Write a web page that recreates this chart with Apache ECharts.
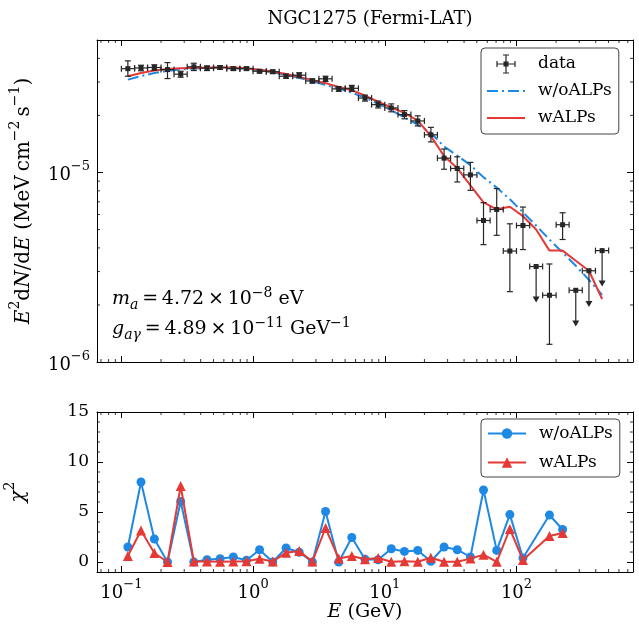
<!DOCTYPE html>
<html><head><meta charset="utf-8">
<script src="https://cdn.jsdelivr.net/npm/echarts@6/dist/echarts.min.js"></script>
<style>html,body{margin:0;padding:0;background:#fff}#c{width:639px;height:625px}</style>
</head><body><div id="c"></div>
<script>
// ---------------- data ----------------
const energy = [0.112,0.141,0.178,0.224,0.282,0.355,0.447,0.562,0.708,0.891,1.12,1.41,1.78,2.24,2.82,3.55,4.47,5.62,7.08,8.91,11.2,14.1,17.8,22.4,28.2,35.5,44.7,56.2,70.8,89.1,112,141,178,224,282,355,447];
const binEdges = [0.1,0.126,0.158,0.2,0.251,0.316,0.398,0.501,0.631,0.794,1,1.26,1.58,2,2.51,3.16,3.98,5.01,6.31,7.94,10,12.6,15.8,20,25.1,31.6,39.8,50.1,63.1,79.4,100,126,158,200,251,316,398,501];
const flux = [3.53e-5,3.56e-5,3.58e-5,3.49e-5,3.30e-5,3.61e-5,3.55e-5,3.58e-5,3.53e-5,3.53e-5,3.42e-5,3.40e-5,3.22e-5,3.26e-5,3.04e-5,3.12e-5,2.76e-5,2.78e-5,2.47e-5,2.28e-5,2.19e-5,2.02e-5,1.87e-5,1.58e-5,1.19e-5,1.05e-5,9.71e-6,5.58e-6,6.38e-6,3.85e-6,5.25e-6,3.19e-6,2.25e-6,5.30e-6,2.39e-6,3.03e-6,3.87e-6];
const fluxLo = [3.22e-5,3.44e-5,3.46e-5,3.13e-5,3.18e-5,3.45e-5,3.45e-5,3.50e-5,3.46e-5,3.46e-5,3.35e-5,3.33e-5,3.14e-5,3.16e-5,2.96e-5,3.02e-5,2.68e-5,2.68e-5,2.38e-5,2.19e-5,2.09e-5,1.92e-5,1.76e-5,1.45e-5,1.04e-5,8.91e-6,8.05e-6,4.16e-6,4.66e-6,2.35e-6,3.92e-6,2.06e-6,1.24e-6,4.43e-6,1.54e-6,1.95e-6,2.50e-6];
const fluxHi = [3.88e-5,3.68e-5,3.70e-5,3.80e-5,3.42e-5,3.77e-5,3.65e-5,3.66e-5,3.60e-5,3.60e-5,3.49e-5,3.47e-5,3.30e-5,3.36e-5,3.12e-5,3.22e-5,2.84e-5,2.88e-5,2.56e-5,2.38e-5,2.30e-5,2.12e-5,1.99e-5,1.73e-5,1.33e-5,1.21e-5,1.13e-5,6.93e-6,8.22e-6,5.36e-6,6.57e-6,3.19e-6,3.29e-6,6.13e-6,2.39e-6,3.03e-6,3.87e-6];
const upperLimit = [0,0,0,0,0,0,0,0,0,0,0,0,0,0,0,0,0,0,0,0,0,0,0,0,0,0,0,0,0,0,0,1,0,0,1,1,1];
const modelNoALP = [3.09e-5,3.226e-5,3.345e-5,3.436e-5,3.50e-5,3.535e-5,3.556e-5,3.565e-5,3.556e-5,3.526e-5,3.462e-5,3.378e-5,3.272e-5,3.155e-5,3.026e-5,2.895e-5,2.769e-5,2.636e-5,2.48e-5,2.304e-5,2.128e-5,1.954e-5,1.783e-5,1.617e-5,1.371e-5,1.228e-5,1.093e-5,9.44e-6,8.32e-6,7.22e-6,6.16e-6,5.25e-6,4.43e-6,3.78e-6,3.22e-6,2.71e-6,2.26e-6];
const modelALP = [3.22e-5,3.345e-5,3.449e-5,3.513e-5,3.548e-5,3.569e-5,3.578e-5,3.578e-5,3.578e-5,3.548e-5,3.483e-5,3.407e-5,3.304e-5,3.194e-5,3.071e-5,2.96e-5,2.826e-5,2.718e-5,2.541e-5,2.361e-5,2.202e-5,2.064e-5,1.879e-5,1.558e-5,1.22e-5,1.054e-5,8.56e-6,6.96e-6,6.39e-6,6.59e-6,5.88e-6,5.0e-6,3.87e-6,3.87e-6,3.42e-6,3.03e-6,2.15e-6];
const chiEnergy = [0.112,0.141,0.178,0.224,0.282,0.355,0.447,0.562,0.708,0.891,1.12,1.41,1.78,2.24,2.82,3.55,4.47,5.62,7.08,8.91,11.2,14.1,17.8,22.4,28.2,35.5,44.7,56.2,70.8,89.1,112,178,224];
const chiNoALP = [1.5,8.0,2.3,0,6.05,0,0.23,0.33,0.5,0.17,1.23,0,1.4,0.97,0,5.05,0,2.45,0.27,0.23,1.33,1.06,1.16,0.07,1.5,1.23,0.5,7.2,1.16,4.74,0.4,4.7,3.25];
const chiALP = [0.6,3.15,0.9,0,7.6,0.05,0.05,0.02,0.05,0.08,0.33,0.05,0.93,1.1,0.05,3.4,0.34,0.6,0.27,0.4,0.02,0.07,0.02,0.43,0.02,0.02,0.34,0.73,0.02,3.3,0.2,2.6,2.9];
const xMinorTicks = [0.07,0.08,0.09,0.2,0.3,0.4,0.5,0.6,0.7,0.8,0.9,2,3,4,5,6,7,8,9,20,30,40,50,60,70,80,90,200,300,400,500,600,700];
const yMinorTicksTop = [2e-6,3e-6,4e-6,5e-6,6e-6,7e-6,8e-6,9e-6,2e-5,3e-5,4e-5];
const yMinorTicksChi = [1,2,3,4,6,7,8,9,11,12,13,14];
const X_MIN = 0.0653, X_MAX = 767, Y_MIN = 1e-6, Y_MAX = 5e-5, CHI_MIN = -1, CHI_MAX = 15;

// ---------------- styles ----------------
const FONT = 'DejaVu Serif';
const BLUE = '#1E88E5', RED = '#E53935', INK = '#262626';
const powRich = {
  b: {fontFamily: FONT, fontSize: 18, color: '#000', lineHeight: 24, verticalAlign: 'bottom'},
  s: {fontFamily: FONT, fontSize: 13, color: '#000', lineHeight: 13, verticalAlign: 'top'}
};
function powLabel(v) {
  const e = Math.round(Math.log10(v));
  return '{b|10}{s|' + (e < 0 ? '\u2212' + (-e) : e) + '}';
}
function majorTick() { return {show: true, inside: true, length: 6, lineStyle: {color: '#000', width: 1}}; }
function axLine() { return {show: true, onZero: false, lineStyle: {color: '#000', width: 1}}; }

function logX(grid, pos, withLabels) {
  return {type: 'log', gridIndex: grid, position: pos, min: X_MIN, max: X_MAX,
    axisLine: axLine(), axisTick: majorTick(), splitLine: {show: false},
    axisLabel: {show: withLabels, showMinLabel: false, showMaxLabel: false, margin: 6,
      formatter: powLabel, rich: powRich}};
}

function renderErr(params, api) {
  const x = api.value(0), y = api.value(1), xl = api.value(2), xh = api.value(3),
        yl = api.value(4), yh = api.value(5), ul = api.value(6);
  const c = api.coord([x, y]), a = api.coord([xl, y]), b = api.coord([xh, y]);
  const lo = api.coord([x, yl]), hi = api.coord([x, yh]);
  const st = {stroke: INK, lineWidth: 1.2};
  const cap = 3;
  const kids = [
    {type: 'line', shape: {x1: a[0], y1: a[1], x2: b[0], y2: b[1]}, style: st},
    {type: 'line', shape: {x1: a[0], y1: a[1] - cap, x2: a[0], y2: a[1] + cap}, style: st},
    {type: 'line', shape: {x1: b[0], y1: b[1] - cap, x2: b[0], y2: b[1] + cap}, style: st}
  ];
  if (ul) {
    kids.push({type: 'line', shape: {x1: c[0], y1: c[1], x2: lo[0], y2: lo[1] - 4}, style: st});
    kids.push({type: 'polygon', shape: {points: [[lo[0] - 3.5, lo[1] - 6], [lo[0] + 3.5, lo[1] - 6], [lo[0], lo[1]]]}, style: {fill: INK}});
  } else {
    kids.push({type: 'line', shape: {x1: hi[0], y1: hi[1], x2: lo[0], y2: lo[1]}, style: st});
    kids.push({type: 'line', shape: {x1: hi[0] - cap, y1: hi[1], x2: hi[0] + cap, y2: hi[1]}, style: st});
    kids.push({type: 'line', shape: {x1: lo[0] - cap, y1: lo[1], x2: lo[0] + cap, y2: lo[1]}, style: st});
  }
  kids.push({type: 'rect', shape: {x: c[0] - 2.5, y: c[1] - 2.5, width: 5, height: 5}, style: {fill: INK}});
  return {type: 'group', children: kids};
}
function minorX(yLo, yHi) {
  return function (params, api) {
    const v = api.value(0);
    const p1 = api.coord([v, yLo]), p2 = api.coord([v, yHi]);
    const st = {stroke: '#000', lineWidth: 0.8};
    return {type: 'group', children: [
      {type: 'line', shape: {x1: p1[0], y1: p1[1], x2: p1[0], y2: p1[1] - 3}, style: st},
      {type: 'line', shape: {x1: p2[0], y1: p2[1], x2: p2[0], y2: p2[1] + 3}, style: st}]};
  };
}
function minorY(xLo, xHi) {
  return function (params, api) {
    const v = api.value(1);
    const p1 = api.coord([xLo, v]), p2 = api.coord([xHi, v]);
    const st = {stroke: '#000', lineWidth: 0.8};
    return {type: 'group', children: [
      {type: 'line', shape: {x1: p1[0], y1: p1[1], x2: p1[0] + 3, y2: p1[1]}, style: st},
      {type: 'line', shape: {x1: p2[0], y1: p2[1], x2: p2[0] - 3, y2: p2[1]}, style: st}]};
  };
}

const errData = energy.map((e, i) => [e, flux[i], binEdges[i], binEdges[i + 1], fluxLo[i], fluxHi[i], upperLimit[i]]);
const CORNERS = 'M0 0h0.01v0.01zM38 20h-0.01v-0.01z';
const dataIcon = 'path://' + CORNERS + 'M10 9.4h18v1.2h-18zM9.4 7h1.2v6h-1.2zM27.4 7h1.2v6h-1.2zM18.4 1h1.2v18h-1.2zM16 0.4h6v1.2h-6zM16 18.4h6v1.2h-6zM16.5 7.5h5v5h-5z';
const dashDotIcon = 'path://' + CORNERS + 'M0 9h11v2h-11zM15 9h2v2h-2zM21 9h11v2h-11zM36 9h2v2h-2z';
const solidIcon = 'path://' + CORNERS + 'M0 9h38v2h-38z';

const legendBase = {
  orient: 'vertical', left: 481, borderColor: '#444', borderWidth: 1, borderRadius: 4,
  backgroundColor: '#fff', itemWidth: 38, padding: [6, 7, 6, 6],
  textStyle: {fontFamily: FONT, fontSize: 17, color: '#000', padding: [0, 0, 0, 8]}
};
const annRich = {
  i: {fontFamily: FONT, fontSize: 19, fontStyle: 'italic', lineHeight: 26, verticalAlign: 'middle', color: '#000'},
  n: {fontFamily: FONT, fontSize: 19, lineHeight: 26, verticalAlign: 'middle', color: '#000'},
  sub: {fontFamily: FONT, fontSize: 14, fontStyle: 'italic', lineHeight: 13, verticalAlign: 'bottom', color: '#000'},
  sup: {fontFamily: FONT, fontSize: 14, lineHeight: 13, verticalAlign: 'top', color: '#000'}
};

const chart = echarts.init(document.getElementById('c'), null, {renderer: 'canvas'});
chart.setOption({
  animation: false,
  backgroundColor: '#fff',
  title: {text: 'NGC1275 (Fermi-LAT)', left: 365, top: 5, textAlign: 'center',
    textStyle: {fontFamily: FONT, fontSize: 18, fontWeight: 'normal', color: '#000'}},
  grid: [
    {left: 97, top: 40, width: 536, height: 322, containLabel: false, outerBoundsMode: 'none'},
    {left: 97, top: 412, width: 536, height: 160, containLabel: false, outerBoundsMode: 'none'}
  ],
  xAxis: [
    logX(0, 'bottom', false),
    logX(0, 'top', false),
    Object.assign(logX(1, 'bottom', true), {name: '{i|E} (GeV)', nameLocation: 'middle', nameGap: 30,
      nameTextStyle: {fontFamily: FONT, fontSize: 19, color: '#000',
        rich: {i: {fontFamily: FONT, fontSize: 19, fontStyle: 'italic', color: '#000'}}}}),
    logX(1, 'top', false)
  ],
  yAxis: [
    {type: 'log', gridIndex: 0, position: 'left', min: Y_MIN, max: Y_MAX,
      axisLine: axLine(), axisTick: majorTick(), splitLine: {show: false},
      axisLabel: {showMinLabel: true, showMaxLabel: false, margin: 7, formatter: powLabel, rich: powRich},
      name: '{i|E}{s|2}{n|d}{i|N}{n|/d}{i|E}{n| (MeV\u2009cm}{s|\u22122}{n|\u2009s}{s|\u22121}{n|)}',
      nameLocation: 'middle', nameRotate: 90, nameGap: 63,
      nameTextStyle: {fontFamily: FONT, fontSize: 20, color: '#000', rich: {
        i: {fontFamily: FONT, fontSize: 20, fontStyle: 'italic', lineHeight: 26, verticalAlign: 'bottom'},
        n: {fontFamily: FONT, fontSize: 20, lineHeight: 26, verticalAlign: 'bottom'},
        s: {fontFamily: FONT, fontSize: 14, lineHeight: 13, verticalAlign: 'top'}}}},
    {type: 'log', gridIndex: 0, position: 'right', min: Y_MIN, max: Y_MAX,
      axisLine: axLine(), axisTick: majorTick(), splitLine: {show: false}, axisLabel: {show: false}},
    {type: 'value', gridIndex: 1, position: 'left', min: CHI_MIN, max: CHI_MAX, splitNumber: 3,
      axisLine: axLine(), axisTick: majorTick(), splitLine: {show: false},
      axisLabel: {showMinLabel: false, margin: 8, fontFamily: FONT, fontSize: 17, color: '#000'},
      name: '{i|\u03c7}{s|2}', nameLocation: 'middle', nameRotate: 90, nameGap: 68,
      nameTextStyle: {fontFamily: FONT, fontSize: 20, color: '#000', rich: {
        i: {fontFamily: FONT, fontSize: 20, fontStyle: 'italic', lineHeight: 26, verticalAlign: 'bottom'},
        s: {fontFamily: FONT, fontSize: 14, lineHeight: 13, verticalAlign: 'top'}}}},
    {type: 'value', gridIndex: 1, position: 'right', min: CHI_MIN, max: CHI_MAX, splitNumber: 3,
      axisLine: axLine(), axisTick: majorTick(), splitLine: {show: false}, axisLabel: {show: false}}
  ],
  legend: [
    Object.assign({}, legendBase, {top: 48, itemHeight: 20, itemGap: 7,
      data: [{name: 'data', icon: dataIcon}, {name: 'w/oALPs', icon: dashDotIcon}, {name: 'wALPs', icon: solidIcon}]}),
    Object.assign({}, legendBase, {top: 419, itemHeight: 13, itemGap: 12,
      data: [{name: 'w/oALPs (\u03c7\u00b2)'}, {name: 'wALPs (\u03c7\u00b2)'}],
      formatter: n => n.replace(' (\u03c7\u00b2)', '')})
  ],
  graphic: [
    {type: 'text', left: 112, top: 286, style: {
      text: '{i|m}{sub|a}{n|\u2009=\u20094.72\u2009\u00d7\u200910}{sup|\u22128}{n| eV}', rich: annRich}},
    {type: 'text', left: 112, top: 316, style: {
      text: '{i|g}{sub|a\u03b3}{n|\u2009=\u20094.89\u2009\u00d7\u200910}{sup|\u221211}{n| GeV}{sup|\u22121}', rich: annRich}}
  ],
  series: [
    {type: 'line', name: 'w/oALPs', xAxisIndex: 0, yAxisIndex: 0, symbol: 'none', z: 3,
      data: energy.map((e, i) => [e, modelNoALP[i]]),
      lineStyle: {color: BLUE, width: 2, type: [11, 4, 2, 4]}, itemStyle: {color: BLUE}},
    {type: 'line', name: 'wALPs', xAxisIndex: 0, yAxisIndex: 0, symbol: 'none', z: 4,
      data: energy.map((e, i) => [e, modelALP[i]]),
      lineStyle: {color: RED, width: 2}, itemStyle: {color: RED}},
    {type: 'custom', name: 'data', xAxisIndex: 0, yAxisIndex: 0, z: 5, renderItem: renderErr,
      itemStyle: {color: INK}, encode: {x: 0, y: 1}, data: errData},
    {type: 'line', name: 'w/oALPs (\u03c7\u00b2)', xAxisIndex: 2, yAxisIndex: 2, symbol: 'circle', symbolSize: 9, z: 3,
      data: chiEnergy.map((e, i) => [e, chiNoALP[i]]),
      lineStyle: {color: BLUE, width: 2}, itemStyle: {color: BLUE}},
    {type: 'line', name: 'wALPs (\u03c7\u00b2)', xAxisIndex: 2, yAxisIndex: 2, symbol: 'triangle', symbolSize: 10, z: 4,
      data: chiEnergy.map((e, i) => [e, chiALP[i]]),
      lineStyle: {color: RED, width: 2}, itemStyle: {color: RED}},
    {type: 'custom', xAxisIndex: 0, yAxisIndex: 0, silent: true, z: 6, renderItem: minorX(Y_MIN, Y_MAX),
      encode: {x: 0, y: 1}, data: xMinorTicks.map(v => [v, Y_MIN])},
    {type: 'custom', xAxisIndex: 0, yAxisIndex: 0, silent: true, z: 6, renderItem: minorY(X_MIN, X_MAX),
      encode: {x: 0, y: 1}, data: yMinorTicksTop.map(v => [X_MIN, v])},
    {type: 'custom', xAxisIndex: 2, yAxisIndex: 2, silent: true, z: 6, renderItem: minorX(CHI_MIN, CHI_MAX),
      encode: {x: 0, y: 1}, data: xMinorTicks.map(v => [v, 0])},
    {type: 'custom', xAxisIndex: 2, yAxisIndex: 2, silent: true, z: 6, renderItem: minorY(X_MIN, X_MAX),
      encode: {x: 0, y: 1}, data: yMinorTicksChi.map(v => [X_MIN, v])}
  ]
});
</script>
</body></html>
